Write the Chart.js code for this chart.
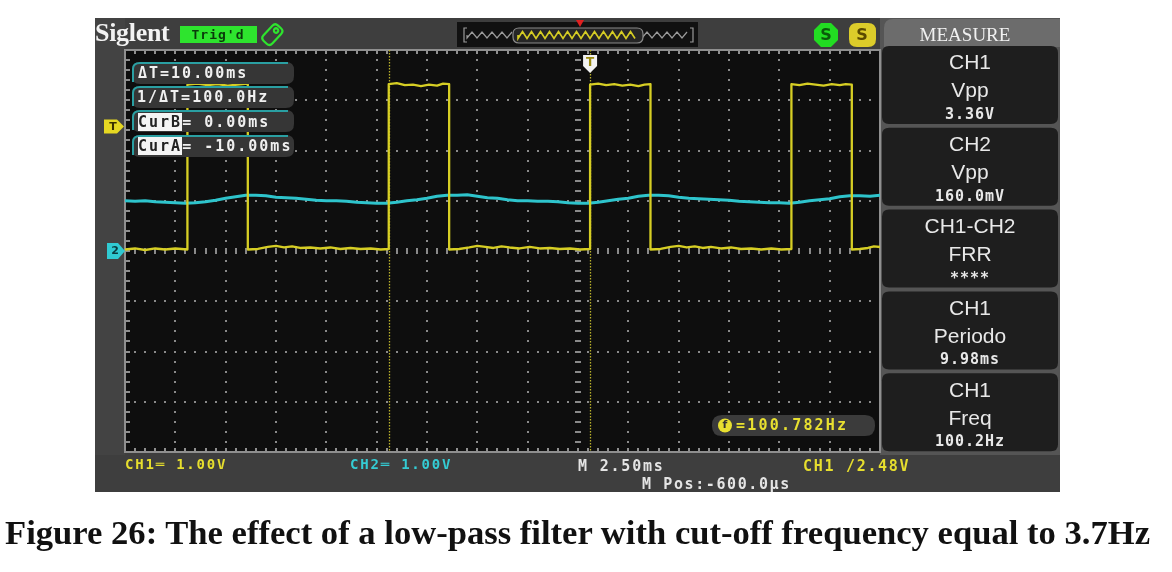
<!DOCTYPE html>
<html><head><meta charset="utf-8">
<script src="https://cdn.jsdelivr.net/npm/chart.js@4.4.1/dist/chart.umd.min.js"></script>
<style>
html,body{margin:0;padding:0;background:#fff;}
#wrap{position:relative;width:1172px;height:572px;overflow:hidden;background:#fff;}
#c{position:absolute;left:0;top:0;width:1172px;height:572px;}
#layer{position:absolute;left:0;top:0;width:1172px;height:572px;}
.t{position:absolute;white-space:nowrap;}
.hl{background:#f4f4f4;color:#222;}
#caption{position:absolute;left:5px;top:516px;font:bold 34px "Liberation Serif",serif;line-height:34px;color:#111;white-space:nowrap;transform-origin:0 0;}
</style></head><body>
<div id="wrap"><canvas id="c" width="1172" height="572"></canvas><div id="layer"></div>
<div id="caption">Figure 26: The effect of a low-pass filter with cut-off frequency equal to 3.7Hz</div>
</div>
<script>
// ---------- data (time in ms relative to trigger, volts) ----------
const timePerDiv = 2.5;          // M 2.50ms
const centerTime = -0.6;         // M Pos:-600.0us
const voltsPerDiv = 1.0;         // CH1 / CH2 1.00V
const trigLevel = 2.48;          // CH1 trigger level
const cursorA = -10.0;           // CurA
const cursorB = 0.0;             // CurB

const ch1Trace = [
[-23.1,0.03],[-22.6,0.05],[-22.1,0.02],[-21.6,0.05],[-21.1,0.03],[-20.6,0.05],[-20.0,0.03],
[-20.0,3.31],[-19.5,3.33],[-19.0,3.30],[-18.5,3.32],[-18.0,3.29],[-17.5,3.31],[-17.0,3.33],
[-17.0,0.03],[-16.5,0.04],[-16.0,0.08],[-15.6,0.10],[-15.2,0.07],[-14.8,0.09],[-14.4,0.06],[-13.9,0.07],[-13.4,0.05],[-12.9,0.07],[-12.4,0.04],[-11.9,0.06],[-11.4,0.04],[-10.9,0.05],[-10.4,0.03],[-10.0,0.04],
[-10.0,3.32],[-9.6,3.34],[-9.2,3.30],[-8.8,3.31],[-8.4,3.28],[-8.0,3.31],[-7.6,3.29],[-7.3,3.33],[-7.0,3.32],
[-7.0,0.03],[-6.5,0.04],[-6.0,0.07],[-5.6,0.10],[-5.2,0.08],[-4.8,0.06],[-4.4,0.09],[-4.0,0.07],[-3.5,0.05],[-3.0,0.08],[-2.5,0.05],[-2.0,0.06],[-1.5,0.04],[-1.0,0.05],[-0.5,0.03],[0.0,0.04],
[0.0,3.31],[0.4,3.33],[0.8,3.30],[1.2,3.32],[1.6,3.29],[2.0,3.31],[2.4,3.28],[2.7,3.31],[3.0,3.32],
[3.0,0.03],[3.5,0.04],[4.0,0.08],[4.4,0.10],[4.8,0.07],[5.2,0.09],[5.6,0.06],[6.0,0.08],[6.5,0.05],[7.0,0.07],[7.5,0.04],[8.0,0.05],[8.5,0.03],[9.0,0.05],[9.5,0.03],[10.0,0.04],
[10.0,3.32],[10.4,3.30],[10.8,3.33],[11.2,3.31],[11.6,3.29],[12.0,3.32],[12.4,3.30],[12.7,3.32],[13.0,3.31],
[13.0,0.03],[13.4,0.04],[13.8,0.06],[14.1,0.09],[14.4,0.08]
];

const ch2Trace = [
[-23.1,1.00],[-22.6,0.99],[-22.1,1.00],[-21.6,0.98],[-21.1,0.97],[-20.6,0.96],[-20.1,0.95],[-19.6,0.96],[-19.1,0.98],[-18.6,1.01],[-18.1,1.05],[-17.6,1.08],[-17.1,1.11],[-16.6,1.11],[-16.1,1.10],[-15.6,1.07],[-15.1,1.06],[-14.6,1.05],[-14.1,1.03],[-13.6,1.01],[-13.1,1.00],[-12.6,1.00],[-12.1,0.99],[-11.6,0.97],[-11.1,0.96],[-10.6,0.95],[-10.1,0.95],
[-9.6,0.97],[-9.1,1.00],[-8.6,1.02],[-8.1,1.05],[-7.6,1.09],[-7.1,1.11],[-6.6,1.11],[-6.1,1.12],[-5.6,1.09],[-5.1,1.06],[-4.6,1.05],[-4.1,1.02],[-3.6,1.00],[-3.1,1.00],[-2.6,0.99],[-2.1,0.99],[-1.6,0.98],[-1.1,0.96],[-0.6,0.95],[-0.1,0.95],
[0.4,0.97],[0.9,1.00],[1.4,1.03],[1.9,1.05],[2.4,1.09],[2.9,1.11],[3.4,1.11],[3.9,1.10],[4.4,1.07],[4.9,1.05],[5.4,1.04],[5.9,1.03],[6.4,1.02],[6.9,1.01],[7.4,0.99],[7.9,0.98],[8.4,0.97],[8.9,0.96],[9.4,0.96],[9.9,0.95],
[10.4,0.97],[10.9,1.00],[11.4,1.02],[11.9,1.04],[12.4,1.08],[12.9,1.10],[13.4,1.10],[13.9,1.09],[14.4,1.11]
];

const cursorReadouts = ['\u0394T=10.00ms','1/\u0394T=100.0Hz','CurB','= 0.00ms','CurA','= -10.00ms'];
const measureSources = ['CH1','CH2','CH1-CH2','CH1','CH1'];
const measureNames   = ['Vpp','Vpp','FRR','Periodo','Freq'];
const measureValues  = ['3.36V','160.0mV','****','9.98ms','100.2Hz'];
const statusTexts = ['CH1\u2550 1.00V','CH2\u2550 1.00V','M 2.50ms','M Pos:-600.0\u00b5s','CH1 /2.48V','=100.782Hz'];

// ---------- drawing helpers ----------
const YEL='#d6ce24', CYA='#2ec4cc';
function rr(ctx,x,y,w,h,r){
  const R = Array.isArray(r)?r:[r,r,r,r];
  ctx.beginPath();
  ctx.moveTo(x+R[0],y);
  ctx.lineTo(x+w-R[1],y); ctx.quadraticCurveTo(x+w,y,x+w,y+R[1]);
  ctx.lineTo(x+w,y+h-R[2]); ctx.quadraticCurveTo(x+w,y+h,x+w-R[2],y+h);
  ctx.lineTo(x+R[3],y+h); ctx.quadraticCurveTo(x,y+h,x,y+h-R[3]);
  ctx.lineTo(x,y+R[0]); ctx.quadraticCurveTo(x,y,x+R[0],y);
  ctx.closePath();
}
function zig(ctx,x0,x1,y,amp,per){
  ctx.beginPath(); ctx.moveTo(x0,y);
  for(let x=x0;x<=x1;x+=per/2){ ctx.lineTo(x, y + ((Math.round((x-x0)/(per/2))%2)?-amp:amp)); }
  ctx.stroke();
}

const scopePlugin = {
  id:'scope',
  beforeDraw(chart){
    const ctx=chart.ctx, a=chart.chartArea;
    ctx.save();
    ctx.fillStyle='#fff'; ctx.fillRect(0,0,chart.width,chart.height);
    // frame
    ctx.fillStyle='#3e3e3e'; ctx.fillRect(95,18,965,474);
    ctx.fillStyle='#434343'; ctx.fillRect(95,18,30,437);
    // screen
    ctx.fillStyle='#0e0e0e'; ctx.fillRect(a.left,a.top,a.right-a.left,a.bottom-a.top);
    // right measure panel
    ctx.fillStyle='#555'; ctx.fillRect(880,18,180,437);
    ctx.fillStyle='#6c6c6c'; rr(ctx,884,19,176,28,[9,0,0,0]); ctx.fill();
    for(let i=0;i<5;i++){
      const top=46+i*81.8;
      ctx.fillStyle='#1e1e1e'; rr(ctx,882,top,176,78,7); ctx.fill();
    }
    // Trig'd badge
    ctx.fillStyle='#2ee42e'; ctx.fillRect(180,26,77,17);
    // key icon
    ctx.save(); ctx.translate(272,35); ctx.rotate(0.75);
    ctx.strokeStyle='#2ee42e'; ctx.lineWidth=2.2; rr(ctx,-6,-11,12,21,4); ctx.stroke();
    ctx.beginPath(); ctx.arc(0,-6,2.2,0,Math.PI*2); ctx.stroke();
    ctx.restore();
    // overview box
    ctx.fillStyle='#111'; ctx.fillRect(457,22,241,25);
    ctx.strokeStyle='#9a9a9a'; ctx.lineWidth=1.2;
    ctx.beginPath(); ctx.moveTo(467,28); ctx.lineTo(464,28); ctx.lineTo(464,42); ctx.lineTo(467,42); ctx.stroke();
    ctx.beginPath(); ctx.moveTo(690,28); ctx.lineTo(693,28); ctx.lineTo(693,42); ctx.lineTo(690,42); ctx.stroke();
    zig(ctx,467,514,35,3,10); zig(ctx,642,689,35,3,10);
    ctx.fillStyle='#262626'; ctx.strokeStyle='#8a8a8a'; rr(ctx,513,28,130,15,6); ctx.fill(); ctx.stroke();
    ctx.strokeStyle=YEL; ctx.lineWidth=1.6; zig(ctx,518,638,35,3.5,9);
    ctx.fillStyle='#e02020'; ctx.beginPath(); ctx.moveTo(576,20); ctx.lineTo(584,20); ctx.lineTo(580,27); ctx.closePath(); ctx.fill();
    // status icons
    ctx.fillStyle='#22dd22'; ctx.beginPath();
    for(let k=0;k<8;k++){const an=Math.PI/8+k*Math.PI/4; ctx.lineTo(826+13*Math.cos(an),35+13*Math.sin(an));}
    ctx.closePath(); ctx.fill();
    ctx.fillStyle='#dccc2a'; rr(ctx,849,23,27,24,8); ctx.fill();
    ctx.restore();
  },
  beforeDatasetsDraw(chart){
    const ctx=chart.ctx, a=chart.chartArea, xs=chart.scales.x, ys=chart.scales.y;
    ctx.save();
    ctx.fillStyle='#8a8a8a';
    const minorT=timePerDiv/5, minorV=voltsPerDiv/5;
    const nT=Math.round((xs.max-xs.min)/minorT), nV=Math.round((ys.max-ys.min)/minorV);
    // vertical division lines
    for(let k=-8;k<=5;k++){
      const px=Math.round(xs.getPixelForValue(centerTime+k*timePerDiv));
      for(let j=1;j<nV;j++){
        const py=Math.round(ys.getPixelForValue(ys.min+j*minorV));
        if(k===0) ctx.fillRect(px-3,py-1,6,2); else ctx.fillRect(px-1,py-1,2,2);
      }
    }
    // horizontal division lines
    for(let v=-3;v<=3;v++){
      const py=Math.round(ys.getPixelForValue(v*voltsPerDiv));
      for(let j=1;j<nT;j++){
        const px=Math.round(xs.getPixelForValue(xs.min+j*minorT));
        if(v===0) ctx.fillRect(px-1,py-3,2,6); else ctx.fillRect(px-1,py-1,2,2);
      }
    }
    // border with ticks
    ctx.strokeStyle='#8f8f8f'; ctx.lineWidth=2;
    ctx.strokeRect(a.left,a.top,a.right-a.left,a.bottom-a.top);
    ctx.fillStyle='#8f8f8f';
    for(let j=1;j<nT;j++){
      const px=Math.round(xs.getPixelForValue(xs.min+j*minorT));
      ctx.fillRect(px-1,a.top,2,4); ctx.fillRect(px-1,a.bottom-4,2,4);
    }
    for(let j=1;j<nV;j++){
      const py=Math.round(ys.getPixelForValue(ys.min+j*minorV));
      ctx.fillRect(a.left,py-1,5,2);
    }
    // cursors
    ctx.strokeStyle='#b9b12a'; ctx.lineWidth=1.3; ctx.setLineDash([1.5,1.5]);
    [cursorA,cursorB].forEach(t=>{
      const px=Math.round(xs.getPixelForValue(t))+0.5;
      ctx.beginPath(); ctx.moveTo(px,a.top); ctx.lineTo(px,a.bottom); ctx.stroke();
    });
    ctx.restore();
  },
  afterDatasetsDraw(chart){
    const ctx=chart.ctx, xs=chart.scales.x, ys=chart.scales.y;
    ctx.save();
    // cursor readout boxes
    [62,86,110,135].forEach(y=>{
      ctx.fillStyle='#363636'; rr(ctx,132,y,162,22,8); ctx.fill();
      ctx.strokeStyle='#2a9fa2'; ctx.lineWidth=2;
      ctx.beginPath(); ctx.moveTo(133,y+20); ctx.lineTo(133,y+7); ctx.quadraticCurveTo(133,y+1,140,y+1); ctx.lineTo(288,y+1); ctx.stroke();
    });
    // trigger frequency box
    ctx.fillStyle='#3b3b3b'; rr(ctx,712,415,163,21,10); ctx.fill();
    ctx.fillStyle='#e8e030'; ctx.beginPath(); ctx.arc(725,425.5,7,0,Math.PI*2); ctx.fill();
    // trigger level marker (left)
    const ty=ys.getPixelForValue(trigLevel);
    ctx.fillStyle='#e6d822'; ctx.beginPath();
    ctx.moveTo(104,ty-7); ctx.lineTo(117,ty-7); ctx.lineTo(124,ty); ctx.lineTo(117,ty+7); ctx.lineTo(104,ty+7); ctx.closePath(); ctx.fill();
    // channel ground marker
    const gy=ys.getPixelForValue(0);
    ctx.fillStyle='#30cad2'; ctx.beginPath();
    ctx.moveTo(107,gy-8); ctx.lineTo(118,gy-8); ctx.lineTo(125,gy); ctx.lineTo(118,gy+8); ctx.lineTo(107,gy+8); ctx.closePath(); ctx.fill();
    // trigger position marker (top)
    const tx=xs.getPixelForValue(0);
    ctx.fillStyle='#f2f2f2'; ctx.beginPath();
    ctx.moveTo(tx-7,55); ctx.lineTo(tx+7,55); ctx.lineTo(tx+7,66); ctx.lineTo(tx,73); ctx.lineTo(tx-7,66); ctx.closePath(); ctx.fill();
    ctx.restore();
  }
};

const chart = new Chart(document.getElementById('c'), {
  type:'scatter',
  data:{datasets:[
    {label:'CH1', data:ch1Trace.map(p=>({x:p[0],y:p[1]})), showLine:true, borderColor:YEL, borderWidth:2.3, pointRadius:0, tension:0, borderJoinStyle:'round'},
    {label:'CH2', data:ch2Trace.map(p=>({x:p[0],y:p[1]})), showLine:true, borderColor:CYA, borderWidth:3, pointRadius:0, tension:0, borderJoinStyle:'round'}
  ]},
  options:{
    responsive:false, animation:false, devicePixelRatio:1, events:[],
    layout:{padding:{left:125,top:50,right:292,bottom:120}},
    plugins:{legend:{display:false},tooltip:{enabled:false},title:{display:false}},
    scales:{
      x:{type:'linear',min:centerTime-9*timePerDiv,max:centerTime+6*timePerDiv,display:false},
      y:{type:'linear',min:-4*voltsPerDiv,max:4*voltsPerDiv,display:false}
    }
  },
  plugins:[scopePlugin]
});

// ---------- text layer ----------
const layer=document.getElementById('layer');
function addText(html,x,y,font,color,opt){
  opt=opt||{};
  const d=document.createElement('div'); d.className='t';
  d.innerHTML=html; d.style.font=font; d.style.color=color;
  const size=parseFloat(font.match(/([\d.]+)px/)[1]);
  d.style.lineHeight=Math.round(size*1.2)+'px';
  d.style.top=(y-size*0.6)+'px';
  d.style.left=x+'px';
  if(opt.center) d.style.transform='translateX(-50%)';
  if(opt.ls!==undefined) d.style.letterSpacing=opt.ls+'px';
  layer.appendChild(d); return d;
}
const MONO='"DejaVu Sans Mono",monospace';
addText('Siglent',95,33,'bold 26px "Liberation Serif",serif','#f2f2f2',{ls:-0.3});
addText("Trig'd",218,35,'bold 13px '+MONO,'#0b3a0b',{center:true,ls:1});
addText('S',826,35,'bold 16px "DejaVu Sans",sans-serif','#0a5a0a',{center:true});
addText('S',862,35,'bold 16px "DejaVu Sans",sans-serif','#5a4a00',{center:true});
addText('MEASURE',965,34,'19px "Liberation Serif",serif','#f0f0f0',{center:true});

addText(cursorReadouts[0],138,73,'bold 15px '+MONO,'#f0f0f0',{ls:2});
addText(cursorReadouts[1],137,97,'bold 15px '+MONO,'#f0f0f0',{ls:2});
addText('<span class="hl">'+cursorReadouts[2]+'</span>'+cursorReadouts[3],138,122,'bold 15px '+MONO,'#f0f0f0',{ls:2});
addText('<span class="hl">'+cursorReadouts[4]+'</span>'+cursorReadouts[5],138,146,'bold 15px '+MONO,'#f0f0f0',{ls:2});

for(let i=0;i<5;i++){
  const top=46+i*81.8;
  addText(measureSources[i],970,top+16,'21px "Liberation Sans",sans-serif','#e8e8e8',{center:true});
  addText(measureNames[i],970,top+44,'21px "Liberation Sans",sans-serif','#e8e8e8',{center:true});
  addText(measureValues[i],970,top+68,'bold 15px '+MONO,'#e8e8e8',{center:true,ls:1});
}

addText(statusTexts[0],125,464,'bold 14px '+MONO,'#e6de2e',{ls:1.8});
addText(statusTexts[1],350,464,'bold 14px '+MONO,'#34ccd4',{ls:1.8});
addText(statusTexts[2],578,466,'bold 15px '+MONO,'#e4e4e4',{ls:1.8});
addText(statusTexts[3],642,484,'bold 15px '+MONO,'#e4e4e4',{ls:1.6});
addText(statusTexts[4],803,466,'bold 15px '+MONO,'#e6de2e',{ls:1.7});
addText(statusTexts[5],736,425,'bold 15px '+MONO,'#e8e030',{ls:2.2});
addText('f',725,425,'bold 11px "DejaVu Sans",sans-serif','#333',{center:true});

// marker letters
const ys=chart.scales.y, xs=chart.scales.x;
addText('T',113,ys.getPixelForValue(trigLevel),'bold 11px "DejaVu Sans",sans-serif','#3a3000',{center:true});
addText('2',115,ys.getPixelForValue(0),'bold 11px "DejaVu Sans",sans-serif','#0a3a3e',{center:true});
addText('T',xs.getPixelForValue(0),62,'bold 12px "DejaVu Sans",sans-serif','#9a8a10',{center:true});

// fit caption width
const cap=document.getElementById('caption');
const w=cap.getBoundingClientRect().width;
cap.style.transform='scaleX('+(1145/w)+')';
</script>
</body></html>
